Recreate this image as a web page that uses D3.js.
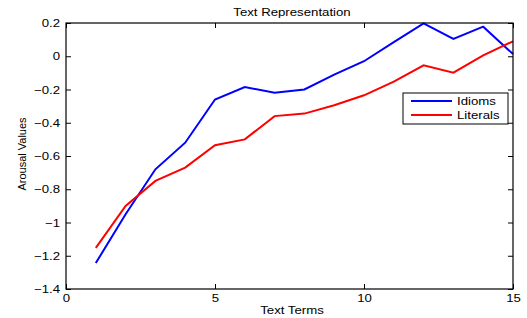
<!DOCTYPE html>
<html>
<head>
<meta charset="utf-8">
<script src="https://cdn.jsdelivr.net/npm/d3@7"></script>
<style>
  body { margin: 0; background: #fff; }
  text { font-family: "Liberation Sans", Arial, sans-serif; }
</style>
</head>
<body>
<svg width="527" height="318"></svg>
<script>
// values
var terms = [1, 2, 3, 4, 5, 6, 7, 8, 9, 10, 11, 12, 13, 14, 15];
var idioms = [-1.244, -0.95, -0.68, -0.52, -0.26, -0.185, -0.22, -0.20, -0.11, -0.03, 0.085, 0.198, 0.104, 0.178, 0.013];
var literals = [-1.153, -0.90, -0.75, -0.67, -0.535, -0.50, -0.36, -0.345, -0.295, -0.235, -0.153, -0.055, -0.099, 0.005, 0.09];
var xTicks = [0, 5, 10, 15];
var yTicks = [-1.4, -1.2, -1, -0.8, -0.6, -0.4, -0.2, 0, 0.2];
var seriesNames = ["Idioms", "Literals"];
var seriesColors = ["#0000ff", "#ff0000"];

var svg = d3.select("svg"),
    margin = {top: 23, right: 14, bottom: 29, left: 66},
    width = +svg.attr("width") - margin.left - margin.right,
    height = +svg.attr("height") - margin.top - margin.bottom,
    g = svg.append("g").attr("transform", "translate(" + margin.left + "," + margin.top + ")");

var x = d3.scaleLinear().domain([0, 15]).range([0, width]);
var y = d3.scaleLinear().domain([-1.4, 0.2]).range([height, 0]);

var fmt = function(d) { return d3.format("")(+d.toFixed(1)).replace("-", "\u2212"); };

// ticks inside, mirrored on top and right
g.append("g")
    .attr("transform", "translate(0," + height + ")")
    .call(d3.axisBottom(x).tickValues(xTicks).tickSizeInner(-5).tickSizeOuter(0).tickPadding(5));
g.append("g")
    .call(d3.axisTop(x).tickValues(xTicks).tickSizeInner(-5).tickSizeOuter(0).tickFormat(""));
g.append("g")
    .call(d3.axisLeft(y).tickValues(yTicks).tickSizeInner(-5).tickSizeOuter(0).tickPadding(6).tickFormat(fmt));
g.append("g")
    .attr("transform", "translate(" + width + ",0)")
    .call(d3.axisRight(y).tickValues(yTicks).tickSizeInner(-5).tickSizeOuter(0).tickFormat(""));

g.selectAll(".domain").remove();
g.selectAll(".tick text").attr("font-size", 11).attr("font-family", "Liberation Sans, Arial, sans-serif").attr("fill", "#000");
g.selectAll(".tick line").attr("stroke", "#000");

var line = d3.line()
    .x(function(d, i) { return x(terms[i]); })
    .y(function(d) { return y(d); });

[idioms, literals].forEach(function(s, k) {
  g.append("path")
      .datum(s)
      .attr("fill", "none")
      .attr("stroke", seriesColors[k])
      .attr("stroke-width", 2)
      .attr("d", line);
});

g.append("rect")
    .attr("width", width)
    .attr("height", height)
    .attr("fill", "none")
    .attr("stroke", "#000")
    .attr("stroke-width", 1.2);

// legend
var lg = svg.append("g").attr("transform", "translate(403,93)");
lg.append("rect")
    .attr("width", 105)
    .attr("height", 31)
    .attr("fill", "#fff")
    .attr("stroke", "#000")
    .attr("stroke-width", 1);
seriesNames.forEach(function(n, k) {
  lg.append("line")
      .attr("x1", 8).attr("x2", 49)
      .attr("y1", 8 + k * 14).attr("y2", 8 + k * 14)
      .attr("stroke", seriesColors[k])
      .attr("stroke-width", 2);
  lg.append("text")
      .attr("x", 54)
      .attr("y", 8 + k * 14)
      .attr("dy", "0.35em")
      .attr("font-size", 11)
      .text(n);
});

svg.append("text")
    .attr("x", 292)
    .attr("y", 16)
    .attr("text-anchor", "middle")
    .attr("font-size", 11)
    .text("Text Representation");

svg.append("text")
    .attr("x", 292)
    .attr("y", 314)
    .attr("text-anchor", "middle")
    .attr("font-size", 11)
    .text("Text Terms");

svg.append("text")
    .attr("class", "ylab")
    .attr("transform", "translate(26,154) rotate(-90)")
    .attr("text-anchor", "middle")
    .attr("font-size", 11)
    .text("Arousal Values");

// the reference figure is stretched sideways, so widen horizontal text
svg.selectAll("text").filter(function() { return !this.classList.contains("ylab"); })
    .each(function() {
      var w = this.getComputedTextLength();
      if (w > 0) d3.select(this).attr("textLength", w * 1.2).attr("lengthAdjust", "spacingAndGlyphs");
    });
</script>
</body>
</html>
